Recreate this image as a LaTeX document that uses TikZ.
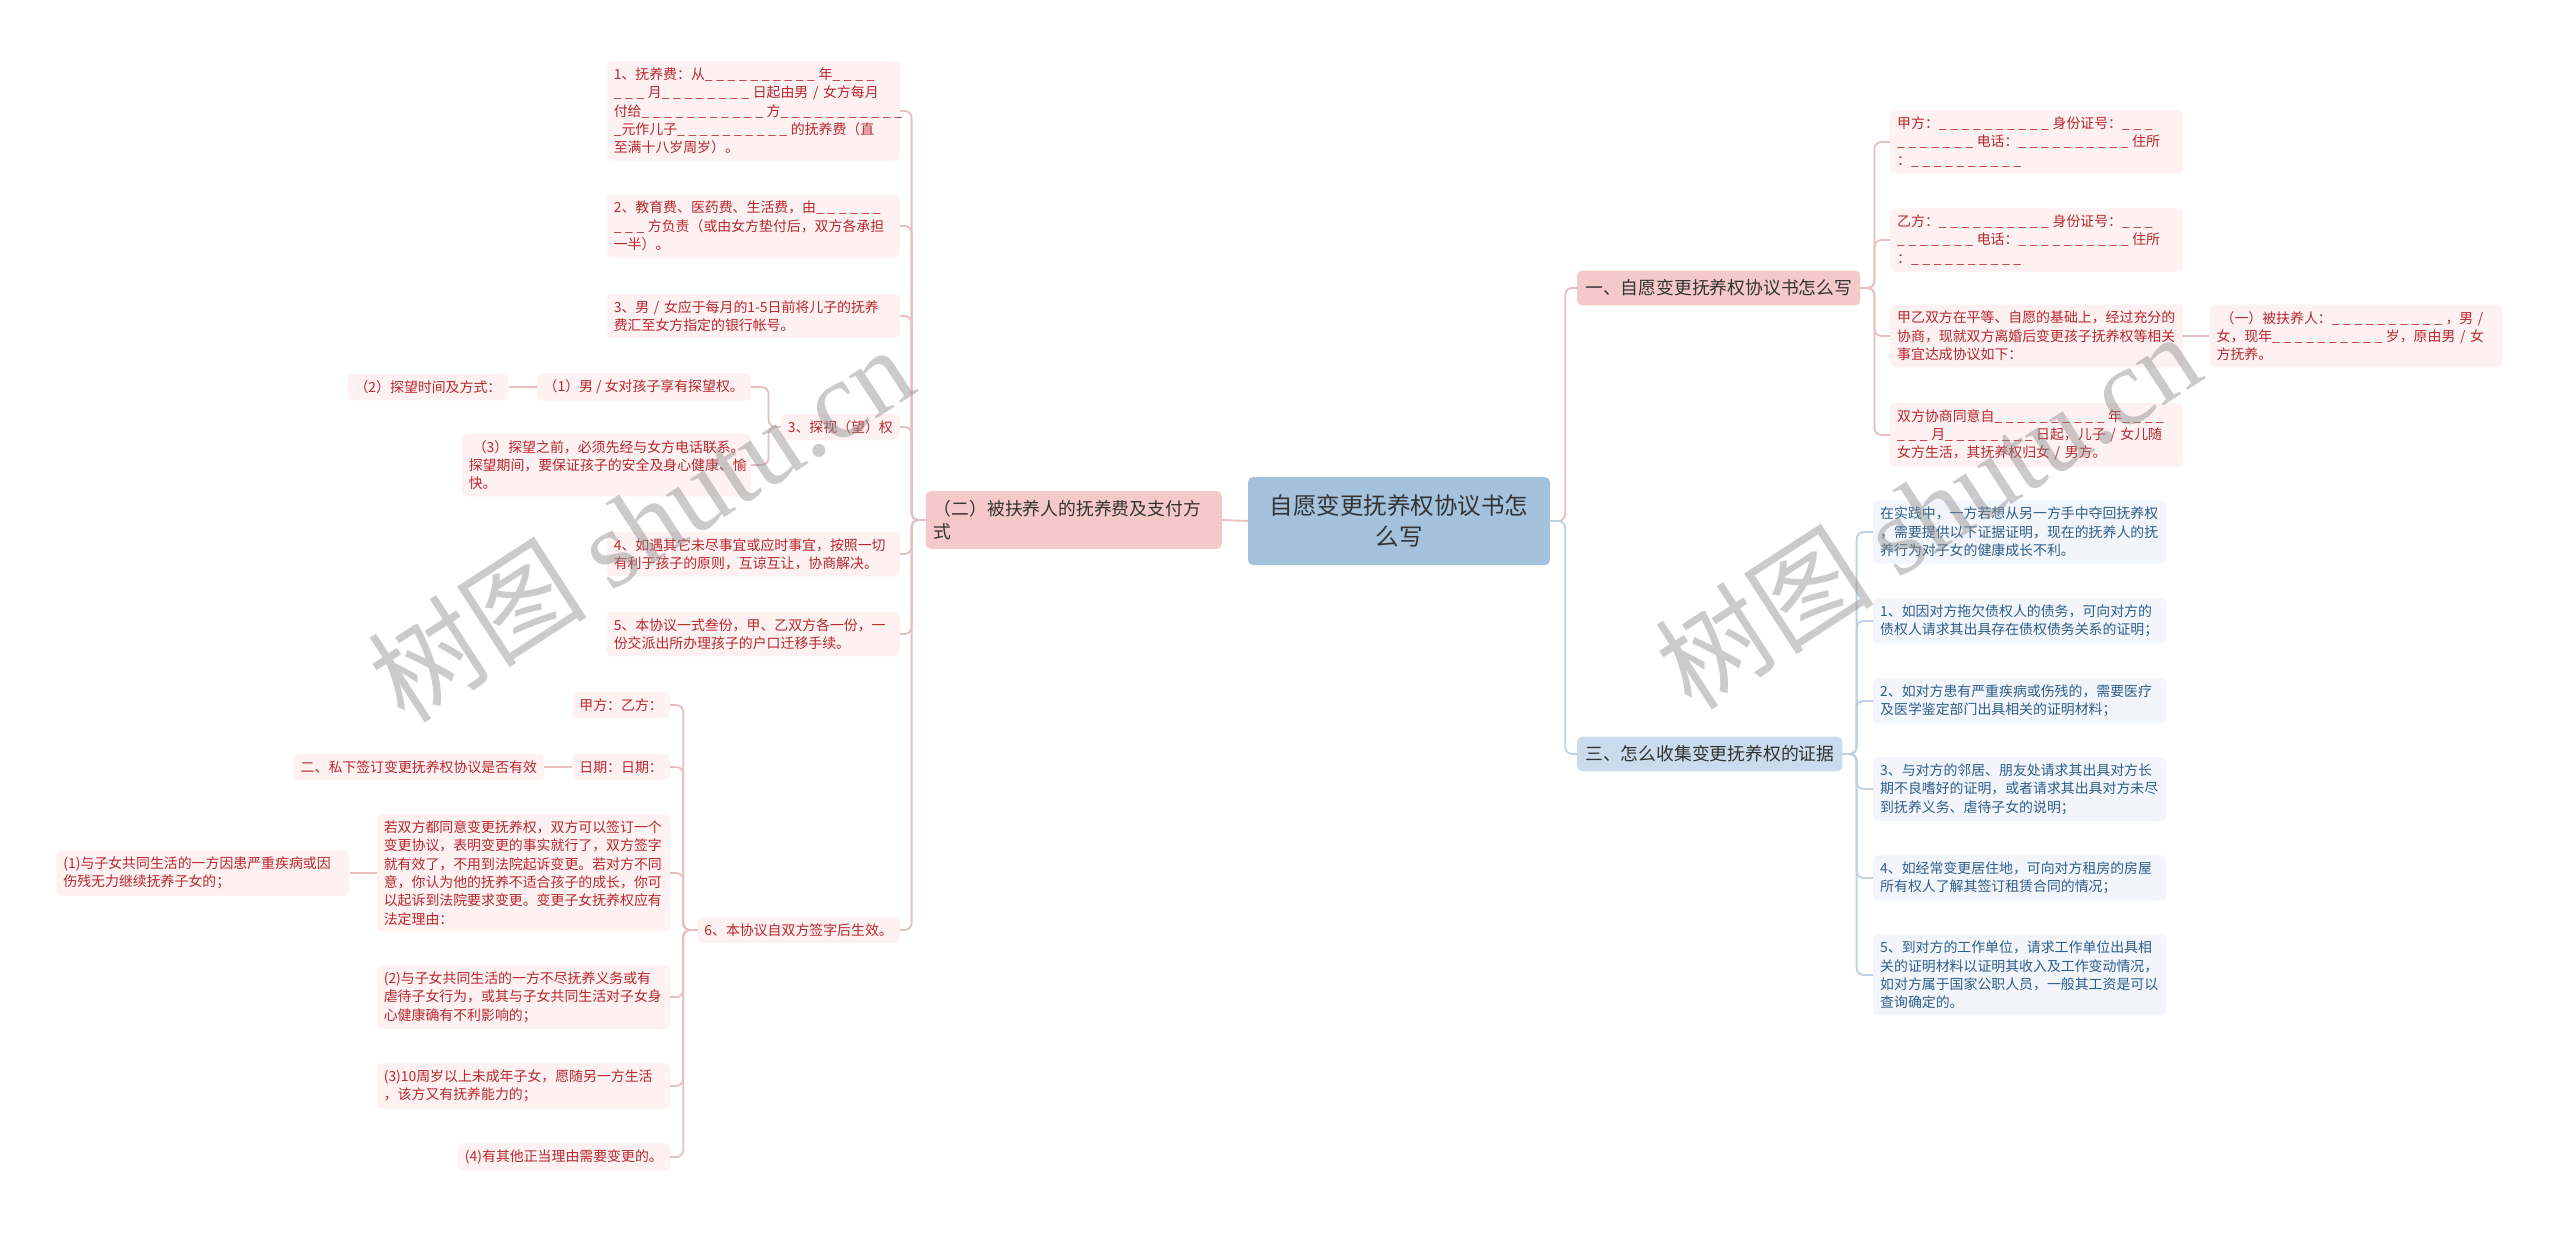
\documentclass[tikz,border=0pt]{standalone}
\usepackage{fontspec}
\setmainfont{Noto Sans CJK SC}
\newfontfamily\wmfont{Liberation Serif}
\usepackage{xcolor}
\usepackage{tikz}
\usetikzlibrary{positioning}

\definecolor{cRoot}{HTML}{A4C2DC}
\definecolor{cMainP}{HTML}{F5C9CA}
\definecolor{cMainB}{HTML}{C9DBEC}
\definecolor{cLeafP}{HTML}{FDF1F2}
\definecolor{cLeafB}{HTML}{F2F6FB}
\definecolor{cRed}{HTML}{B8282E}
\definecolor{cBlue}{HTML}{2E5E8C}
\definecolor{cDark}{HTML}{333333}
\definecolor{cLineP}{HTML}{E8BFC1}
\definecolor{cLineB}{HTML}{BFD1E2}

\newcommand\bl[1]{\foreach \k in {1,...,#1}{\_\kern3.6pt}}

\begin{document}
\begin{tikzpicture}[x=1pt, y=-1pt,
  node distance=28pt,
  root/.style={rectangle, rounded corners=5pt, fill=cRoot, text=cDark, align=center,
               font=\fontsize{23.5}{31}\selectfont, minimum width=302pt, minimum height=88pt},
  mainp/.style={rectangle, rounded corners=5pt, fill=cMainP, text=cDark,
                font=\fontsize{17.8}{23}\selectfont, inner xsep=8pt, inner ysep=9pt},
  mainb/.style={mainp, fill=cMainB},
  leafp/.style={rectangle, rounded corners=5pt, fill=cLeafP, text=cRed, align=left,
                font=\fontsize{13.9}{18.3}\selectfont, inner xsep=7pt, inner ysep=6.5pt},
  leafb/.style={leafp, fill=cLeafB, text=cBlue},
  wide/.style={text width=279pt},
  lp/.style={draw=cLineP, line width=1.8pt, rounded corners=7pt},
  lb/.style={lp, draw=cLineB},
  wmark/.style={text=black!45, opacity=0.45, rotate=33, font=\fontsize{110}{120}\selectfont}
]
\fill[white] (0,0) rectangle (2560,1232);
\useasboundingbox (0,0) rectangle (2560,1232);

\node[root] (root) at (1399,521) {自愿变更抚养权协议书怎\\么写};

% left branch
\node[mainp, anchor=east, align=left, text width=280pt] (sub2) at (1222,520)
  {（二）被扶养人的抚养费及支付方\\式};
\node[leafp, wide, anchor=east] (n1) at (900,111)
  {1、抚养费：从\bl{10}年\bl{4}\\\bl{3}月\bl{8}日起由男~/~女方每月\\付给\bl{11}方\bl{11}\\\_元作儿子\bl{10}的抚养费（直\\至满十八岁周岁）。};
\node[leafp, wide, anchor=east] (n2) at (900,226)
  {2、教育费、医药费、生活费，由\bl{6}\\\bl{3}方负责（或由女方垫付后，双方各承担\\一半）。};
\node[leafp, wide, anchor=east] (n3) at (900,316)
  {3、男~/~女应于每月的1-5日前将儿子的抚养\\费汇至女方指定的银行帐号。};
\node[leafp, anchor=east] (n3v) at (900,427) {3、探视（望）权};
\node[leafp, anchor=east] (t1) at (751,387) {（1）男~/~女对孩子享有探望权。};
\node[leafp, left=of t1] (t2) {（2）探望时间及方式：};
\node[leafp, anchor=east, text width=275pt] (t3) at (751,465)
  {\hspace*{4pt}（3）探望之前，必须先经与女方电话联系。\\探望期间，要保证孩子的安全及身心健康、愉\\快。};
\node[leafp, wide, anchor=east] (n4) at (900,554)
  {4、如遇其它未尽事宜或应时事宜，按照一切\\有利于孩子的原则，互谅互让，协商解决。};
\node[leafp, wide, anchor=east] (n5) at (900,634)
  {5、本协议一式叁份，甲、乙双方各一份，一\\份交派出所办理孩子的户口迁移手续。};
\node[leafp, anchor=east] (n6) at (900,930) {6、本协议自双方签字后生效。};
\node[leafp, anchor=east] (jy) at (670,705) {甲方：乙方：};
\node[leafp, anchor=east] (rq) at (670,767) {日期：日期：};
\node[leafp, left=of rq] (sx) {二、私下签订变更抚养权协议是否有效};
\node[leafp, wide, anchor=east] (rs) at (670,873)
  {若双方都同意变更抚养权，双方可以签订一个\\变更协议，表明变更的事实就行了，双方签字\\就有效了，不用到法院起诉变更。若对方不同\\意，你认为他的抚养不适合孩子的成长，你可\\以起诉到法院要求变更。变更子女抚养权应有\\法定理由：};
\node[leafp, wide, left=27pt of rs] (p1)
  {(1)与子女共同生活的一方因患严重疾病或因\\伤残无力继续抚养子女的；};
\node[leafp, wide, anchor=east] (p2) at (670,997)
  {(2)与子女共同生活的一方不尽抚养义务或有\\虐待子女行为，或其与子女共同生活对子女身\\心健康确有不利影响的；};
\node[leafp, wide, anchor=east] (p3) at (670,1086)
  {(3)10周岁以上未成年子女，愿随另一方生活\\，该方又有抚养能力的；};
\node[leafp, anchor=east] (p4) at (670,1157) {(4)有其他正当理由需要变更的。};

% right branch
\node[mainp, anchor=west] (r1) at (1577,288) {一、自愿变更抚养权协议书怎么写};
\node[mainb, anchor=west] (r3) at (1577,754) {三、怎么收集变更抚养权的证据};
\node[leafp, wide, anchor=west] (a1) at (1890,142)
  {甲方：\bl{10}身份证号：\bl{3}\\\bl{7}电话：\bl{10}住所\\：\bl{10}};
\node[leafp, wide, anchor=west] (a2) at (1890,240)
  {乙方：\bl{10}身份证号：\bl{3}\\\bl{7}电话：\bl{10}住所\\：\bl{10}};
\node[leafp, wide, anchor=west] (a3) at (1890,336)
  {甲乙双方在平等、自愿的基础上，经过充分的\\协商，现就双方离婚后变更孩子抚养权等相关\\事宜达成协议如下：};
\node[leafp, wide, right=26pt of a3] (a5)
  {\hspace*{4pt}（一）被扶养人：\bl{10}，男~/\\女，现年\bl{10}岁，原由男~/~女\\方抚养。};
\node[leafp, wide, anchor=west] (a4) at (1890,435)
  {双方协商同意自\bl{10}年\bl{4}\\\bl{3}月\bl{8}日起，儿子~/~女儿随\\女方生活，其抚养权归女~/~男方。};
\node[leafb, wide, anchor=west] (b0) at (1873,532)
  {在实践中，一方若想从另一方手中夺回抚养权\\，需要提供以下证据证明，现在的抚养人的抚\\养行为对子女的健康成长不利。};
\node[leafb, wide, anchor=west] (b1) at (1873,621)
  {1、如因对方拖欠债权人的债务，可向对方的\\债权人请求其出具存在债权债务关系的证明；};
\node[leafb, wide, anchor=west] (b2) at (1873,701)
  {2、如对方患有严重疾病或伤残的，需要医疗\\及医学鉴定部门出具相关的证明材料；};
\node[leafb, wide, anchor=west] (b3) at (1873,789)
  {3、与对方的邻居、朋友处请求其出具对方长\\期不良嗜好的证明，或者请求其出具对方未尽\\到抚养义务、虐待子女的说明；};
\node[leafb, wide, anchor=west] (b4) at (1873,878)
  {4、如经常变更居住地，可向对方租房的房屋\\所有权人了解其签订租赁合同的情况；};
\node[leafb, wide, anchor=west] (b5) at (1873,975)
  {5、到对方的工作单位，请求工作单位出具相\\关的证明材料以证明其收入及工作变动情况，\\如对方属于国家公职人员，一般其工资是可以\\查询确定的。};

\draw[lp] (root.west) -- (sub2.east);
\foreach \c in {n1,n2,n3,n3v,n4,n5,n6}
  \draw[lp] (sub2.west) -- ++(-14,0) |- (\c.east);
\foreach \c in {t1,t3}
  \draw[lp] (n3v.west) -- ++(-12,0) |- (\c.east);
\draw[lp] (t1.west) -- (t2.east);
\foreach \c in {jy,rq,rs,p2,p3,p4}
  \draw[lp] (n6.west) -- ++(-14,0) |- (\c.east);
\draw[lp] (rq.west) -- (sx.east);
\draw[lp] (rs.west) -- (p1.east);
\draw[lp] (root.east) -- ++(15,0) |- (r1.west);
\draw[lb] (root.east) -- ++(15,0) |- (r3.west);
\foreach \c in {a1,a2,a3,a4}
  \draw[lp] (r1.east) -- ++(14,0) |- (\c.west);
\draw[lp] (a3.east) -- (a5.west);
\foreach \c in {b0,b1,b2,b3,b4,b5}
  \draw[lb] (r3.east) -- ++(14,0) |- (\c.west);

\node[wmark] (wm1) at (640,523) {树图 {\wmfont shutu.cn}};
\node[wmark] (wm2) at (1927,510) {树图 {\wmfont shutu.cn}};
\end{tikzpicture}
\end{document}
